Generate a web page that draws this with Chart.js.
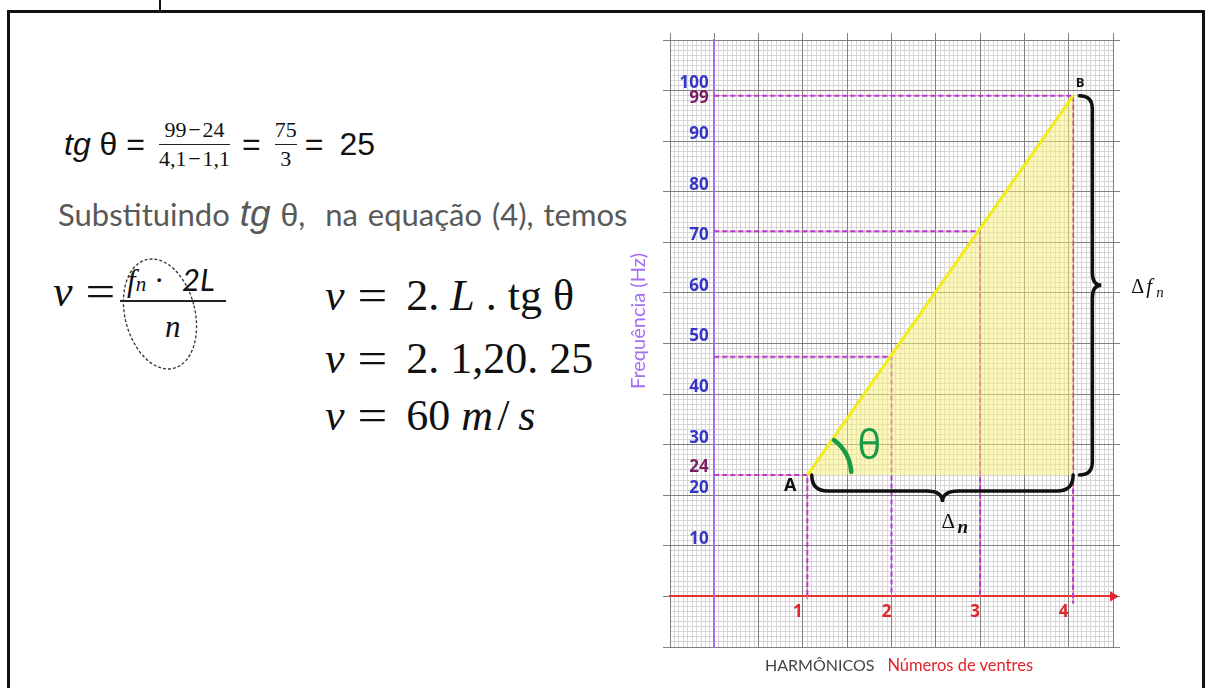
<!DOCTYPE html>
<html lang="pt-BR">
<head>
<meta charset="utf-8">
<title>Frequência × harmônicos</title>
<script src="https://cdn.jsdelivr.net/npm/chart.js@4.4.1/dist/chart.umd.min.js"></script>
<style>
    html, body { margin: 0; padding: 0; background: #fff; }
    body { width: 1208px; height: 688px; position: relative; overflow: hidden; font-family: Lato, 'Open Sans', sans-serif; color: #111; }
    .moldura { position: absolute; left: 7px; top: 10px; width: 1192px; height: 720px; border: 3px solid #111; }
    .marca { position: absolute; left: 159px; top: 0; width: 2px; height: 11px; background: #111; }
    .abs { position: absolute; white-space: nowrap; }
    .ar { font-family: 'Liberation Sans', Arial, sans-serif; }
    .serif { font-family: 'Liberation Serif', 'DejaVu Serif', serif; }
    .fr { display: inline-flex; flex-direction: column; align-items: center; padding: 0 4px; font: 22px 'Liberation Serif', serif; line-height: 1.05; }
    .fr .barra { align-self: stretch; height: 1.5px; background: #222; margin: 3px 0 2px; }
    .eq { display: inline-block; margin: 0 22px 0 15px; transform: scaleX(1.2); }
    #grafico-box { position: absolute; left: 600px; top: 20px; width: 600px; height: 650px; }
    .eixo-x { position: absolute; left: 765px; top: 655px; font: 16px Lato, sans-serif; color: #444; }
    .eixo-x span { color: #e3242b; margin-left: 13px; font-size: 16.5px; }
</style>
</head>
<body>
<div class="marca"></div>
<div class="moldura"></div>

<!-- tg θ = (99−24)/(4,1−1,1) = 75/3 = 25 -->
<div class="abs ar" style="left:64px; top:119px; height:50px; display:flex; align-items:center; font-size:32px;">
    <span><i>tg</i> θ =</span>
    <span class="fr" style="margin-left:10px;"><span>99&#x200A;−&#x200A;24</span><span class="barra"></span><span>4,1&#x200A;−&#x200A;1,1</span></span>
    <span style="margin:0 10px 0 8px;">=</span>
    <span class="fr"><span>75</span><span class="barra"></span><span>3</span></span>
    <span style="margin-left:4px;">=</span>
    <span style="margin-left:16px;">25</span>
</div>

<div class="abs" style="left:58px; top:193px; font-size:31px; color:#595959; word-spacing:2px;">Substituindo <i class="ar" style="font-size:37px;">tg</i> <span class="ar" style="font-size:32px;">θ</span>,&nbsp; na equação (4), temos</div>

<!-- v = f_n . 2L / n -->
<div class="abs serif" style="left:53px; top:270px; font-size:44px; line-height:44px;"><i>v</i><span class="eq" style="margin-right:6px;">=</span></div>
<div class="abs serif" style="left:127px; top:266px; font-size:31px; line-height:30px;"><i>f</i><i style="font-size:21px;">n</i> ·</div>
<div class="abs" style="left:182px; top:264px; font-size:31px; line-height:30px;"><i>2L</i></div>
<div class="abs" style="left:120px; top:300px; width:106px; height:2px; background:#222;"></div>
<div class="abs serif" style="left:165px; top:312px; font-size:31px; line-height:30px;"><i>n</i></div>
<svg class="abs" style="left:110px; top:250px;" width="100" height="130">
    <ellipse cx="50" cy="64" rx="35" ry="56" transform="rotate(-14 50 64)" fill="none" stroke="#333" stroke-width="1.3" stroke-dasharray="3 2"/>
</svg>

<div class="abs serif" style="left:325px; top:274px; font-size:44px; line-height:44px;"><i>v</i><span class="eq">=</span>2. <i>L</i> . tg θ</div>
<div class="abs serif" style="left:325px; top:337px; font-size:44px; line-height:44px;"><i>v</i><span class="eq">=</span>2. 1,20. 25</div>
<div class="abs serif" style="left:325px; top:394px; font-size:44px; line-height:44px;"><i>v</i><span class="eq">=</span>60&nbsp;<i style="letter-spacing:4px;">m</i>/&#x2009;<i>s</i></div>

<div id="grafico-box"><canvas id="grafico"></canvas></div>
<div class="eixo-x">HARMÔNICOS<span>Números de ventres</span></div>

<script>
// valores
const harmonicos = [1, 2, 3, 4];
const freqTicks = [10, 20, 30, 40, 50, 60, 70, 80, 90, 100];
const nomesPontos = ['A', 'B'];
const xPontos = [1.05, 4.05];
const yPontos = [24, 99];
const xGuias = [1.05, 2, 3, 4.05];
const yGuias = [24, 47.4, 72.2, 99];
const yGuiasFim = [-0.4, 0, 0, -1.4];
// chaves: [x0, y0, x1, y1] em unidades do gráfico
const chaveN = [1.1, 24, 4.05, 24];
const chaveF = [4.12, 99, 4.12, 24];

const VERMELHO = '#e3242b';
const ROXO = '#a36ef0';
const AZUL = '#3535c8';
const VINHO = '#7a1d61';
const FONTE_EIXO = '"Open Sans", Lato, sans-serif';

Chart.defaults.font.family = 'Lato, "Open Sans", sans-serif';

const pontos = xPontos.map((x, i) => ({ x, y: yPontos[i] }));
const guias = xGuias.map((x, i) => [
    { x: 0, y: yGuias[i] }, { x, y: yGuias[i] }, { x, y: yGuiasFim[i] },
]);

const datasets = [
    {
        label: 'AB',
        data: pontos,
        borderColor: '#f2ec1b',
        borderWidth: 3,
        backgroundColor: 'rgba(250, 240, 120, 0.5)',
        fill: { value: yPontos[0] },
        pointRadius: 0,
        order: 0,
    },
    {
        label: 'seta',
        data: [{ x: 4.5, y: 0 }],
        showLine: false,
        pointStyle: 'triangle',
        rotation: 90,
        pointRadius: 5,
        backgroundColor: VERMELHO,
        borderColor: VERMELHO,
        clip: false,
        order: 0,
    },
];
guias.forEach((g, i) => {
    datasets.push({
        label: 'guia ' + i, data: g, borderColor: '#b43ccf', borderWidth: 2,
        borderDash: [5, 3], pointRadius: 0, fill: false, order: 1,
    });
    datasets.push({
        label: 'guia fundo ' + i, data: g, borderColor: 'rgba(240, 110, 130, 0.6)',
        borderWidth: 1, pointRadius: 0, fill: false, order: 2,
    });
});

// chave (colchete curvo) entre dois pontos em pixels; n = lado para onde abre
function chave(ctx, a, b, n, r, t) {
    const len = Math.hypot(b[0] - a[0], b[1] - a[1]);
    const u = [(b[0] - a[0]) / len, (b[1] - a[1]) / len];
    const m = [(a[0] + b[0]) / 2, (a[1] + b[1]) / 2];
    const P = (base, du, dn) => [base[0] + u[0] * du + n[0] * dn, base[1] + u[1] * du + n[1] * dn];
    ctx.beginPath();
    ctx.moveTo(a[0], a[1]);
    ctx.quadraticCurveTo(...P(a, 0, r), ...P(a, r, r));
    ctx.lineTo(...P(m, -r, r));
    ctx.quadraticCurveTo(...P(m, 0, r), ...P(m, 0, r + t));
    ctx.quadraticCurveTo(...P(m, 0, r), ...P(m, r, r));
    ctx.lineTo(...P(b, -r, r));
    ctx.quadraticCurveTo(...P(b, 0, r), b[0], b[1]);
    ctx.stroke();
    return P(m, 0, r + t);
}

const anotacoes = {
    id: 'anotacoes',
    afterDatasetsDraw(chart) {
        const { ctx, scales: { x, y } } = chart;
        const px = (vx, vy) => [x.getPixelForValue(vx), y.getPixelForValue(vy)];
        ctx.save();
        ctx.strokeStyle = '#111';
        ctx.fillStyle = '#111';
        ctx.lineWidth = 3.5;
        ctx.lineCap = 'round';

        // chave horizontal (Δn)
        const tn = chave(ctx, px(chaveN[0], chaveN[1]), px(chaveN[2], chaveN[3]), [0, 1], 16, 11);
        ctx.font = '21px "Liberation Serif", serif';
        ctx.textBaseline = 'alphabetic';
        ctx.fillText('Δ', tn[0] - 1, tn[1] + 26);
        ctx.font = 'italic bold 19px "Liberation Serif", serif';
        ctx.fillText('n', tn[0] + 15, tn[1] + 31);

        // chave vertical (Δfn)
        const tf = chave(ctx, px(chaveF[0], chaveF[1]), px(chaveF[2], chaveF[3]), [1, 0], 13, 9);
        ctx.font = '20px "Liberation Serif", serif';
        ctx.fillText('Δ', tf[0] + 30, tf[1] + 8);
        ctx.font = 'italic 21px "Liberation Serif", serif';
        ctx.fillText('f', tf[0] + 45, tf[1] + 8);
        ctx.font = 'italic 15px "Liberation Serif", serif';
        ctx.fillText('n', tf[0] + 55, tf[1] + 12);

        // ângulo θ em A
        const a = px(xPontos[0], yPontos[0]);
        const b = px(xPontos[1], yPontos[1]);
        const ang = Math.atan2(b[1] - a[1], b[0] - a[0]);
        ctx.strokeStyle = '#169a46';
        ctx.lineWidth = 4.5;
        ctx.beginPath();
        ctx.arc(a[0], a[1], 44, ang + 0.04, -0.07);
        ctx.stroke();
        ctx.fillStyle = '#169a46';
        ctx.font = '40px "Open Sans", sans-serif';
        ctx.textAlign = 'center';
        ctx.textBaseline = 'middle';
        ctx.fillText('θ', a[0] + 62, a[1] - 27);

        // nomes dos pontos
        ctx.fillStyle = '#111';
        ctx.font = 'bold 18px "Open Sans", sans-serif';
        ctx.fillText(nomesPontos[0], a[0] - 17, a[1] + 11);
        ctx.font = 'bold 13px "Open Sans", sans-serif';
        ctx.fillText(nomesPontos[1], b[0] + 7, b[1] - 12);
        ctx.restore();
    },
};

const gradeX = { type: 'linear', min: -0.5, max: 4.5 };
const gradeY = { type: 'linear', min: -10, max: 110 };
const semBorda = { display: false };
const rotuloY = v => v + '\u2009\u2009';

new Chart(document.getElementById('grafico'), {
    type: 'line',
    data: { datasets },
    options: {
        responsive: true,
        maintainAspectRatio: false,
        animation: false,
        layout: { padding: { left: 25, top: 13, right: 80, bottom: 23 } },
        plugins: { legend: { display: false }, tooltip: { enabled: false } },
        scales: {
            x: {
                ...gradeX, position: 'bottom',
                ticks: { display: false, stepSize: 0.5 },
                grid: { color: '#808080', drawTicks: false, z: -1 },
                border: semBorda,
            },
            x2: {
                ...gradeX, axis: 'x', position: 'top',
                ticks: { display: false, stepSize: 0.5 },
                grid: { color: '#808080', drawOnChartArea: false, tickLength: 7 },
                border: semBorda,
            },
            xMinor: {
                ...gradeX, axis: 'x', position: 'bottom',
                ticks: { display: false, stepSize: 0.05 },
                grid: { color: '#d6d6d6', drawTicks: false, z: -2 },
                border: semBorda,
            },
            y: {
                ...gradeY, position: 'left',
                ticks: { display: false, stepSize: 10 },
                grid: { color: '#808080', tickLength: 7, z: -1 },
                border: semBorda,
                title: {
                    display: true,
                    text: '\u2003\u2003\u2003Frequência (Hz)',
                    color: ROXO,
                    font: { size: 20 },
                    padding: { top: 2, bottom: 12 },
                },
            },
            y2: {
                ...gradeY, position: 'right',
                ticks: { display: false, stepSize: 10 },
                grid: { color: '#808080', drawOnChartArea: false, tickLength: 7 },
                border: semBorda,
            },
            yMinor: {
                ...gradeY, position: 'left',
                ticks: { display: false, stepSize: 1 },
                grid: { color: '#d6d6d6', drawTicks: false, z: -2 },
                border: semBorda,
            },
            xLab: {
                ...gradeX, axis: 'x', position: { y: 0 },
                afterBuildTicks: s => { s.ticks = harmonicos.map(v => ({ value: v })); },
                ticks: { color: VERMELHO, font: { family: FONTE_EIXO, size: 17, weight: 'bold' }, padding: 6, labelOffset: -5, callback: v => String(v) },
                grid: { display: false, drawTicks: false },
                border: { color: '#e8322e', width: 2 },
            },
            yLab: {
                ...gradeY, axis: 'y', position: { x: 0 },
                afterBuildTicks: s => { s.ticks = freqTicks.map(v => ({ value: v })); },
                ticks: { color: AZUL, font: { family: FONTE_EIXO, size: 17, weight: 'bold' }, padding: 6, labelOffset: -7, callback: rotuloY },
                grid: { display: false, drawTicks: false },
                border: { color: ROXO, width: 2 },
            },
            y24: {
                ...gradeY, axis: 'y', position: { x: 0 },
                afterBuildTicks: s => { s.ticks = [{ value: yPontos[0] }]; },
                ticks: { color: VINHO, font: { family: FONTE_EIXO, size: 17, weight: 'bold' }, padding: 6, labelOffset: -8, callback: rotuloY },
                grid: { display: false, drawTicks: false },
                border: semBorda,
            },
            y99: {
                ...gradeY, axis: 'y', position: { x: 0 },
                afterBuildTicks: s => { s.ticks = [{ value: yPontos[1] }]; },
                ticks: { color: VINHO, font: { family: FONTE_EIXO, size: 17, weight: 'bold' }, padding: 6, labelOffset: 3, callback: rotuloY },
                grid: { display: false, drawTicks: false },
                border: semBorda,
            },
        },
    },
    plugins: [anotacoes],
});
</script>
</body>
</html>
